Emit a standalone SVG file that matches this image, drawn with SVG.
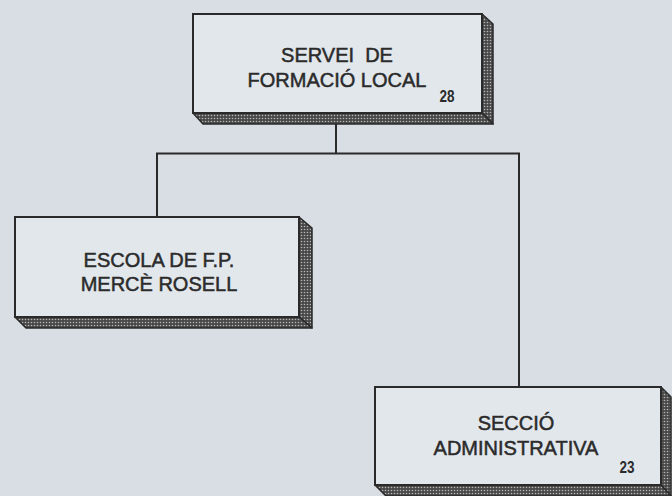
<svg xmlns="http://www.w3.org/2000/svg" width="672" height="496" viewBox="0 0 672 496">
  <defs>
    <pattern id="hatch" width="3" height="3" patternUnits="userSpaceOnUse">
      <rect width="3" height="3" fill="#484848"/>
      <circle cx="1.5" cy="1.5" r="0.8" fill="#b5b5b5"/>
    </pattern>
  </defs>
  <style>
    .face { fill: #e2e7eb; stroke: #2a2a2a; stroke-width: 2; }
    .side { fill: url(#hatch); stroke: #2a2a2a; stroke-width: 1.5; stroke-linejoin: round; }
    .lbl { font-family: "Liberation Sans", Arial, sans-serif; font-size: 20px; fill: #2b2b2b; stroke: #2b2b2b; stroke-width: 0.5; text-anchor: middle; white-space: pre; }
    .num { font-family: "Liberation Sans", Arial, sans-serif; font-size: 16px; font-weight: bold; fill: #2b2b2b; text-anchor: middle; }
    .conn { fill: none; stroke: #2a2a2a; stroke-width: 2; }
  </style>
  <rect width="672" height="496" fill="#d8dee3"/>

  <g id="connectors">
    <path class="conn" d="M336 124 V153.5 M157 217 V153.5 H519 V387"/>
  </g>

  <g id="servei">
    <polygon class="side" points="482,14 493,24 493,124 482,113"/>
    <polygon class="side" points="193,113 482,113 493,124 203,124"/>
    <rect class="face" x="193" y="14" width="289" height="99"/>
    <text class="lbl" x="337" y="62" xml:space="preserve">SERVEI  DE</text>
    <text class="lbl" x="337" y="87">FORMACIÓ LOCAL</text>
    <text class="num" x="447" y="102" text-anchor="start" textLength="15" lengthAdjust="spacingAndGlyphs">28</text>
  </g>

  <g id="escola">
    <polygon class="side" points="299,217 312,228 312,328 299,317"/>
    <polygon class="side" points="15,317 299,317 312,328 26,328"/>
    <rect class="face" x="15" y="217" width="284" height="100"/>
    <text class="lbl" x="159" y="267">ESCOLA DE F.P.</text>
    <text class="lbl" x="159" y="291">MERCÈ ROSELL</text>
  </g>

  <g id="seccio">
    <polygon class="side" points="661,387 671,397 671,496 661,485"/>
    <polygon class="side" points="375,485 661,485 671,496 386,496"/>
    <rect class="face" x="375" y="387" width="286" height="98"/>
    <text class="lbl" x="516" y="430">SECCIÓ</text>
    <text class="lbl" x="516" y="455">ADMINISTRATIVA</text>
    <text class="num" x="627" y="473" text-anchor="start" textLength="15" lengthAdjust="spacingAndGlyphs">23</text>
  </g>
</svg>
